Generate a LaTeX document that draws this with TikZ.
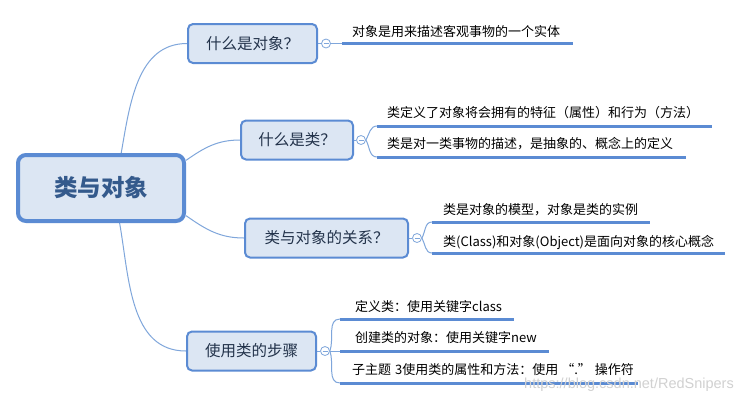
\documentclass[tikz,border=0pt]{standalone}
\usepackage{fontspec}
\setmainfont{Noto Sans CJK SC}
\newfontfamily\wmfont{Liberation Sans}
\definecolor{nodeborder}{HTML}{5B8BD3}
\definecolor{nodefill}{HTML}{DCE6F3}
\definecolor{conncol}{HTML}{7FA6DB}
\definecolor{linecol}{HTML}{5B8BD3}
\definecolor{subtext}{HTML}{22324A}
\definecolor{maintext}{HTML}{345A8C}
\pgfdeclarelayer{bg}
\pgfsetlayers{bg,main}
\begin{document}
\begin{tikzpicture}[x=1pt,y=1pt,
  topic/.style={draw=nodeborder, fill=nodefill, line width=2pt, rounded corners=5pt, minimum height=39pt, inner sep=0pt, font=\fontsize{15.5}{18}\selectfont, text=subtext},
  central/.style={draw=nodeborder, fill=nodefill, line width=4pt, rounded corners=8pt, minimum width=166pt, minimum height=66pt, inner sep=0pt, font=\fontsize{23.5}{28}\selectfont\bfseries, text=maintext},
  conn/.style={draw=conncol, line width=1pt},
  leafline/.style={draw=linecol, line width=3pt},
  leaf/.style={anchor=west, inner sep=0pt, font=\fontsize{13}{15}\selectfont, text=black},
  fold/.style={circle, draw=conncol, fill=white, line width=0.8pt, minimum size=9pt, inner sep=0pt,
    path picture={\draw[conncol,line width=0.8pt] ([xshift=-2.5pt]path picture bounding box.center) -- ([xshift=2.5pt]path picture bounding box.center);}}
]
\useasboundingbox (0,0) rectangle (743,-400);

% topics
\node[central] (cen) at (101,-188) {类与对象};
\node[topic, minimum width=129pt] (t1) at (252.5,-43.5) {什么是对象？};
\node[topic, minimum width=112pt] (t2) at (297,-140) {什么是类？};
\node[topic, minimum width=163pt] (t3) at (326.5,-238) {类与对象的关系？};
\node[topic, minimum width=129pt] (t4) at (251.5,-351) {使用类的步骤};

% fold markers
\node[fold] (f1) at (326,-43.5) {};
\node[fold] (f2) at (361,-140) {};
\node[fold] (f3) at (417,-238) {};
\node[fold] (f4) at (325,-351) {};

% leaf line coordinates
\coordinate (s1) at (342,-43.5);  \coordinate (e1) at (573,-43.5);
\coordinate (s21) at (377,-126); \coordinate (e21) at (712,-126);
\coordinate (s22) at (377,-157); \coordinate (e22) at (686,-157);
\coordinate (s31) at (432,-222); \coordinate (e31) at (650,-222);
\coordinate (s32) at (432,-253); \coordinate (e32) at (725,-253);
\coordinate (s41) at (340,-319); \coordinate (e41) at (514,-319);
\coordinate (s42) at (340,-351); \coordinate (e42) at (549,-351);
\coordinate (s43) at (340,-383); \coordinate (e43) at (638,-383);

\begin{pgfonlayer}{bg}
\fill[white] (0,0) rectangle (743,-400);
\draw[conn] (cen.60) to[out=80,in=180] (t1.west);
\draw[conn] (cen.18) to[out=35,in=180] (t2.west);
\draw[conn] (cen.-18) to[out=-35,in=180] (t3.west);
\draw[conn] (cen.-62) to[out=-80,in=180] (t4.west);
\draw[conn] (t1.east) -- (f1.west);
\draw[conn] (t2.east) -- (f2.west);
\draw[conn] (t3.east) -- (f3.west);
\draw[conn] (t4.east) -- (f4.west);
\draw[conn] (f1.east) -- (s1);
\draw[conn] (f2.east) to[out=60,in=180] (s21);
\draw[conn] (f2.east) to[out=-60,in=180] (s22);
\draw[conn] (f3.east) to[out=60,in=180] (s31);
\draw[conn] (f3.east) to[out=-60,in=180] (s32);
\draw[conn] (f4.east) to[out=70,in=180] (s41);
\draw[conn] (f4.east) -- (s42);
\draw[conn] (f4.east) to[out=-70,in=180] (s43);
\end{pgfonlayer}

\draw[leafline] (s1) -- (e1);
\draw[leafline] (s21) -- (e21);
\draw[leafline] (s22) -- (e22);
\draw[leafline] (s31) -- (e31);
\draw[leafline] (s32) -- (e32);
\draw[leafline] (s41) -- (e41);
\draw[leafline] (s42) -- (e42);
\draw[leafline] (s43) -- (e43);

% leaf texts
\node[leaf] (a1) at (352,-32) {对象是用来描述客观事物的一个实体};
\node[leaf] (a21) at (387,-113) {类定义了对象将会拥有的特征（属性）和行为（方法）};
\node[leaf] (a22) at (387,-144) {类是对一类事物的描述，是抽象的、概念上的定义};
\node[leaf] (a31) at (443,-210) {类是对象的模型，对象是类的实例};
\node[leaf] (a32) at (443,-242) {类(Class)和对象(Object)是面向对象的核心概念};
\node[leaf] (a41) at (355,-307) {定义类：使用关键字class};
\node[leaf] (a42) at (355,-338) {创建类的对象：使用关键字new};
\node[leaf] (a43) at (352,-370) {子主题\hspace{4pt}3使用类的属性和方法：使用 “.” 操作符};

\node[anchor=east, inner sep=0pt, font=\wmfont\fontsize{14.5}{17}\selectfont, text=black!18] (wm) at (734,-385) {https://blog.csdn.net/RedSnipers};
\end{tikzpicture}
\end{document}
